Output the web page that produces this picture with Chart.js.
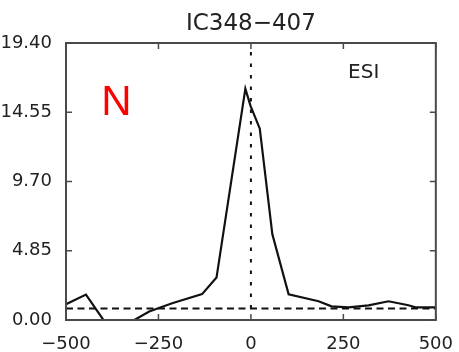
<!DOCTYPE html>
<html>
<head>
<meta charset="utf-8">
<script src="https://cdn.jsdelivr.net/npm/chart.js@4"></script>
<style>
  html, body { margin: 0; padding: 0; background: #fff; }
  #wrap { width: 459px; height: 352px; }
</style>
</head>
<body>
<div id="wrap"><canvas id="c" width="459" height="352"></canvas></div>
<script>
// ---- data ----
const velocity = [-500, -446, -396, -370, -340, -315, -275, -213, -132, -93, -15, -1, 24, 58, 102, 183, 218, 264, 318, 372, 426, 445, 500];
const flux     = [1.1, 1.78, -0.1, -0.5, -0.5, 0.0, 0.6, 1.17, 1.81, 2.97, 16.2, 15.0, 13.4, 6.0, 1.8, 1.31, 0.96, 0.89, 1.03, 1.31, 1.03, 0.89, 0.89];
const continuumLevel = 0.8;
const xTicks = [-500, -250, 0, 250, 500];
const yTicks = [0.00, 4.85, 9.70, 14.55, 19.40];
const titleText = 'IC348\u2212407';
const leftLabel = 'N';
const rightLabel = 'ESI';

const xMin = xTicks[0], xMax = xTicks[xTicks.length - 1];
const yMin = yTicks[0], yMax = yTicks[yTicks.length - 1];

const spectrum = velocity.map((v, i) => ({ x: v, y: flux[i] }));
const continuum = [{ x: xMin, y: continuumLevel }, { x: xMax, y: continuumLevel }];
const zeroLine = [{ x: 0, y: continuumLevel }, { x: 0, y: yMax }];

const frameColor = '#4a4a4a';
const textColor = '#222';

const framePlugin = {
  id: 'frame',
  afterDatasetsDraw(chart) {
    const { ctx, chartArea: a, scales: { x, y } } = chart;
    ctx.save();
    ctx.strokeStyle = frameColor;
    ctx.lineWidth = 2;
    ctx.strokeRect(a.left, a.top, a.right - a.left, a.bottom - a.top);
    ctx.lineWidth = 1.5;
    const tl = 6;
    x.ticks.forEach(t => {
      const px = x.getPixelForValue(t.value);
      ctx.beginPath();
      ctx.moveTo(px, a.bottom); ctx.lineTo(px, a.bottom - tl);
      ctx.moveTo(px, a.top); ctx.lineTo(px, a.top + tl);
      ctx.stroke();
    });
    y.ticks.forEach(t => {
      const py = y.getPixelForValue(t.value);
      ctx.beginPath();
      ctx.moveTo(a.left, py); ctx.lineTo(a.left + tl, py);
      ctx.moveTo(a.right, py); ctx.lineTo(a.right - tl, py);
      ctx.stroke();
    });
    ctx.restore();
  },
  afterDraw(chart) {
    const { ctx, chartArea: a, scales: { x, y } } = chart;
    ctx.save();
    ctx.textAlign = 'center';
    ctx.textBaseline = 'middle';
    ctx.fillStyle = textColor;
    ctx.font = '23px "DejaVu Sans"';
    ctx.fillText(titleText, (a.left + a.right) / 2, 24);
    ctx.font = '20px "DejaVu Sans"';
    ctx.fillText(rightLabel, x.getPixelForValue(305), y.getPixelForValue(17.3));
    ctx.fillStyle = '#ff0000';
    ctx.font = '42px "Liberation Sans"';
    ctx.fillText(leftLabel, x.getPixelForValue(-364), y.getPixelForValue(15.2));
    ctx.restore();
  }
};

new Chart(document.getElementById('c'), {
  type: 'scatter',
  data: {
    datasets: [
      { data: spectrum, showLine: true, borderColor: '#111', borderWidth: 2.2, pointRadius: 0, tension: 0, order: 0 },
      { data: continuum, showLine: true, borderColor: '#111', borderWidth: 2, borderDash: [7, 4.5], pointRadius: 0, order: 1 },
      { data: zeroLine, showLine: true, borderColor: '#111', borderWidth: 2, borderDash: [3.5, 8], pointRadius: 0, order: 2 }
    ]
  },
  options: {
    responsive: false,
    animation: false,
    devicePixelRatio: 1,
    layout: { padding: { top: 43, right: 22, left: 0, bottom: 0 } },
    plugins: { legend: { display: false }, tooltip: { enabled: false }, title: { display: false } },
    scales: {
      x: {
        type: 'linear', min: xMin, max: xMax,
        afterBuildTicks: s => { s.ticks = xTicks.map(v => ({ value: v })); },
        afterFit: s => { s.height = 32; },
        grid: { display: false },
        border: { display: false },
        ticks: { color: textColor, font: { family: 'DejaVu Sans', size: 18 }, padding: 6, maxRotation: 0,
                 callback: v => String(v).replace('-', '\u2212') }
      },
      y: {
        type: 'linear', min: yMin, max: yMax,
        afterBuildTicks: s => { s.ticks = yTicks.map(v => ({ value: v })); },
        afterFit: s => { s.width = 66; },
        grid: { display: false },
        border: { display: false },
        ticks: { color: textColor, font: { family: 'DejaVu Sans', size: 18 }, padding: 6,
                 callback: v => Number(v).toFixed(2) }
      }
    }
  },
  plugins: [framePlugin]
});
</script>
</body>
</html>
